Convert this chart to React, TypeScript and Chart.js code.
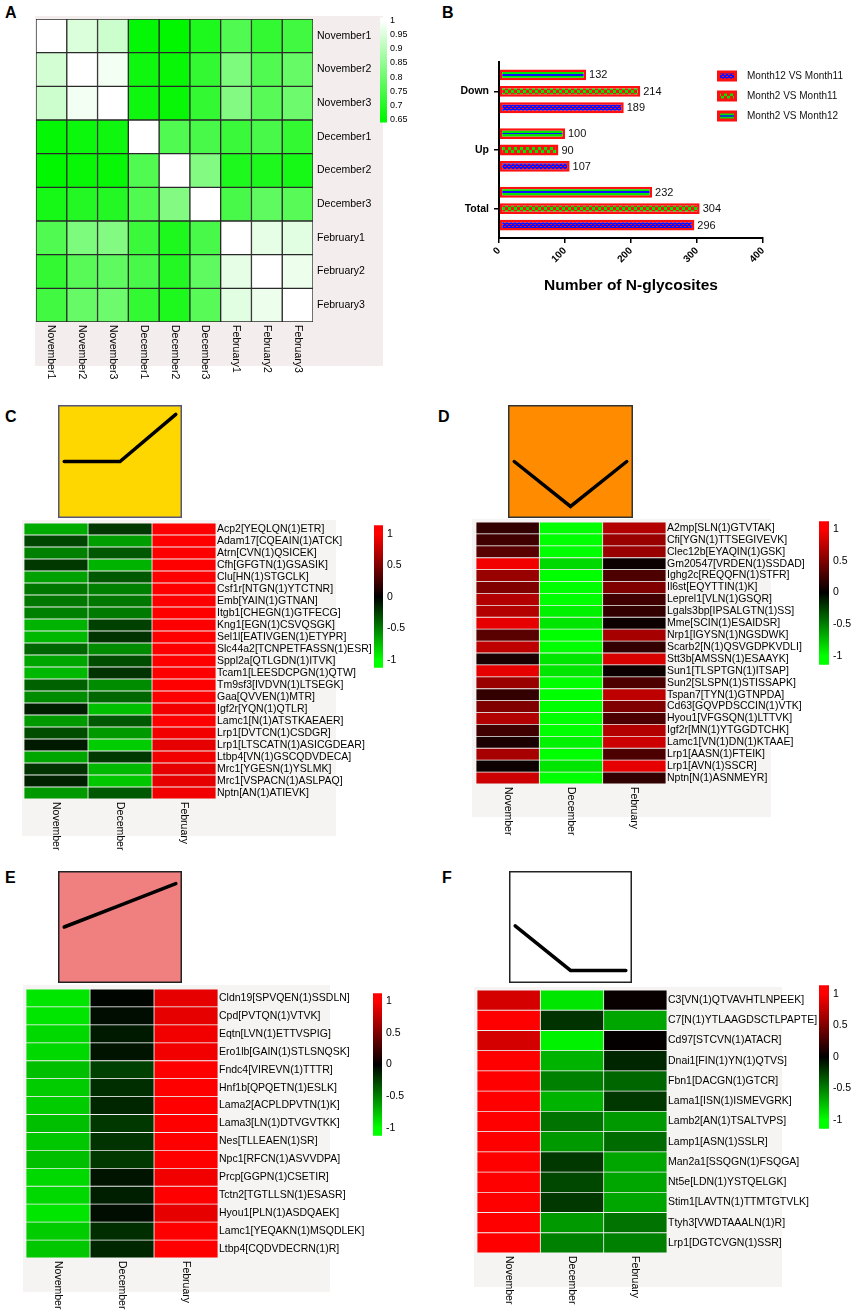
import React, { useEffect, useRef } from 'react';
import { Chart, registerables } from 'chart.js';
Chart.register(...registerables);

const FONT = '"Liberation Sans", Arial, sans-serif';

// ---------- Panel A : sample correlation matrix ----------
const SAMPLES = ['November1', 'November2', 'November3', 'December1', 'December2', 'December3', 'February1', 'February2', 'February3'];
const CORR_NOV1 = [1.0, 0.95, 0.93, 0.655, 0.65, 0.69, 0.76, 0.72, 0.74];
const CORR_NOV2 = [0.94, 1.0, 0.985, 0.67, 0.66, 0.72, 0.82, 0.76, 0.79];
const CORR_NOV3 = [0.93, 0.985, 1.0, 0.67, 0.66, 0.72, 0.83, 0.77, 0.8];
const CORR_DEC1 = [0.655, 0.665, 0.67, 1.0, 0.76, 0.75, 0.73, 0.75, 0.72];
const CORR_DEC2 = [0.65, 0.66, 0.66, 0.76, 1.0, 0.83, 0.69, 0.69, 0.68];
const CORR_DEC3 = [0.68, 0.7, 0.7, 0.76, 0.83, 1.0, 0.75, 0.78, 0.77];
const CORR_FEB1 = [0.76, 0.82, 0.83, 0.73, 0.69, 0.75, 1.0, 0.965, 0.96];
const CORR_FEB2 = [0.72, 0.77, 0.78, 0.75, 0.7, 0.78, 0.965, 1.0, 0.975];
const CORR_FEB3 = [0.74, 0.79, 0.8, 0.72, 0.69, 0.77, 0.96, 0.975, 1.0];
const CORR_ROWS = [CORR_NOV1, CORR_NOV2, CORR_NOV3, CORR_DEC1, CORR_DEC2, CORR_DEC3, CORR_FEB1, CORR_FEB2, CORR_FEB3];
const A_SCALE_TICKS = [0.65, 0.7, 0.75, 0.8, 0.85, 0.9, 0.95, 1];
const A_SCALE_RANGE = [0.6395, 1.0105];

// ---------- Panel B : N-glycosite counts ----------
const B_CATEGORIES = ['Down', 'Up', 'Total'];
const B_M12_VS_M11 = [189, 107, 296];
const B_M2_VS_M11 = [214, 90, 304];
const B_M2_VS_M12 = [132, 100, 232];
const B_X_TICKS = [0, 100, 200, 300, 400];

// ---------- Panels C-F : cluster heatmaps ----------
const MONTHS = ['November', 'December', 'February'];
const RG_TICKS = [-1, -0.5, 0, 0.5, 1];

const C_ROWS = ['Acp2[YEQLQN(1)ETR]', 'Adam17[CQEAIN(1)ATCK]', 'Atrn[CVN(1)QSICEK]', 'Cfh[GFGTN(1)GSASIK]', 'Clu[HN(1)STGCLK]', 'Csf1r[NTGN(1)YTCTNR]', 'Emb[YAIN(1)GTNAN]', 'Itgb1[CHEGN(1)GTFECG]', 'Kng1[EGN(1)CSVQSGK]', 'Sel1l[EATIVGEN(1)ETYPR]', 'Slc44a2[TCNPETFASSN(1)ESR]', 'Sppl2a[QTLGDN(1)ITVK]', 'Tcam1[LEESDCPGN(1)QTW]', 'Tm9sf3[IVDVN(1)LTSEGK]', 'Gaa[QVVEN(1)MTR]', 'Igf2r[YQN(1)QTLR]', 'Lamc1[N(1)ATSTKAEAER]', 'Lrp1[DVTCN(1)CSDGR]', 'Lrp1[LTSCATN(1)ASICGDEAR]', 'Ltbp4[VN(1)GSCQDVDECA]', 'Mrc1[YGESN(1)YSLMK]', 'Mrc1[VSPACN(1)ASLPAQ]', 'Nptn[AN(1)ATIEVK]'];
const C_NOV = [-0.67, -0.27, -0.5, -0.22, -0.63, -0.47, -0.47, -0.5, -0.7, -0.72, -0.4, -0.65, -0.72, -0.38, -0.55, -0.12, -0.6, -0.3, -0.1, -0.65, -0.2, -0.13, -0.6];
const C_DEC = [-0.22, -0.62, -0.35, -0.7, -0.35, -0.5, -0.47, -0.48, -0.25, -0.2, -0.55, -0.3, -0.2, -0.55, -0.4, -0.75, -0.35, -0.6, -0.8, -0.22, -0.72, -0.78, -0.35];
const C_FEB = [1.05, 1.05, 1.05, 1.05, 1.05, 1.05, 1.05, 1.05, 1.05, 1.02, 1.05, 1.05, 1.05, 1.05, 1.05, 0.95, 1.05, 0.95, 0.9, 0.95, 0.9, 0.9, 0.95];
const C_TREND = [0.5, 0.5, 0.93];
const C_RANGE = [-1.123, 1.138];

const D_ROWS = ['A2mp[SLN(1)GTVTAK]', 'Cfi[YGN(1)TTSEGIVEVK]', 'Clec12b[EYAQIN(1)GSK]', 'Gm20547[VRDEN(1)SSDAD]', 'Ighg2c[REQQFN(1)STFR]', 'Il6st[EQYTTIN(1)K]', 'Leprel1[VLN(1)GSQR]', 'Lgals3bp[IPSALGTN(1)SS]', 'Mme[SCIN(1)ESAIDSR]', 'Nrp1[IGYSN(1)NGSDWK]', 'Scarb2[N(1)QSVGDPKVDLI]', 'Stt3b[AMSSN(1)ESAAYK]', 'Sun1[TLSPTGN(1)ITSAP]', 'Sun2[SLSPN(1)STISSAPK]', 'Tspan7[TYN(1)GTNPDA]', 'Cd63[GQVPDSCCIN(1)VTK]', 'Hyou1[VFGSQN(1)LTTVK]', 'Igf2r[MN(1)YTGGDTCHK]', 'Lamc1[VN(1)DN(1)KTAAE]', 'Lrp1[AASN(1)FTEIK]', 'Lrp1[AVN(1)SSCR]', 'Nptn[N(1)ASNMEYR]'];
const D_NOV = [0.2, 0.25, 0.35, 0.95, 0.6, 0.5, 0.7, 0.7, 0.9, 0.35, 0.75, 0.1, 0.9, 0.6, 0.2, 0.5, 0.7, 0.25, 0.1, 0.65, 0.05, 0.8];
const D_DEC = [-1, -1, -1, -0.85, -1, -1, -1, -0.95, -0.9, -1, -1, -0.9, -0.9, -1, -1, -1, -1, -1, -0.95, -1, -0.9, -1];
const D_FEB = [0.7, 0.6, 0.6, 0.05, 0.3, 0.5, 0.25, 0.2, 0.05, 0.65, 0.2, 0.85, 0.05, 0.3, 0.75, 0.5, 0.3, 0.7, 0.8, 0.3, 0.9, 0.2];
const D_TREND = [0.5, 0.09, 0.5];
const D_RANGE = [-1.137, 1.122];

const E_ROWS = ['Cldn19[SPVQEN(1)SSDLN]', 'Cpd[PVTQN(1)VTVK]', 'Eqtn[LVN(1)ETTVSPIG]', 'Ero1lb[GAIN(1)STLSNQSK]', 'Fndc4[VIREVN(1)TTTR]', 'Hnf1b[QPQETN(1)ESLK]', 'Lama2[ACPLDPVTN(1)K]', 'Lama3[LN(1)DTVGVTKK]', 'Nes[TLLEAEN(1)SR]', 'Npc1[RFCN(1)ASVVDPA]', 'Prcp[GGPN(1)CSETIR]', 'Tctn2[TGTLLSN(1)ESASR]', 'Hyou1[PLN(1)ASDQAEK]', 'Lamc1[YEQAKN(1)MSQDLEK]', 'Ltbp4[CQDVDECRN(1)R]'];
const E_NOV = [-0.9, -0.9, -0.85, -0.85, -0.75, -0.8, -0.8, -0.75, -0.78, -0.75, -0.85, -0.85, -0.9, -0.8, -0.78];
const E_DEC = [-0.02, -0.05, -0.1, -0.08, -0.25, -0.18, -0.15, -0.22, -0.2, -0.22, -0.08, -0.12, -0.05, -0.18, -0.15];
const E_FEB = [0.9, 0.9, 0.95, 0.95, 1.05, 1.0, 1.0, 1.05, 1.05, 1.05, 0.95, 1.0, 0.9, 1.0, 1.05];
const E_TREND = [0.5, 0.7, 0.9];
const E_RANGE = [-1.122, 1.122];

const F_ROWS = ['C3[VN(1)QTVAVHTLNPEEK]', 'C7[N(1)YTLAAGDSCTLPAPTE]', 'Cd97[STCVN(1)ATACR]', 'Dnai1[FIN(1)YN(1)QTVS]', 'Fbn1[DACGN(1)GTCR]', 'Lama1[ISN(1)ISMEVGRK]', 'Lamb2[AN(1)TSALTVPS]', 'Lamp1[ASN(1)SSLR]', 'Man2a1[SSQGN(1)FSQGA]', 'Nt5e[LDN(1)YSTQELGK]', 'Stim1[LAVTN(1)TTMTGTVLK]', 'Ttyh3[VWDTAAALN(1)R]', 'Lrp1[DGTCVGN(1)SSR]'];
const F_NOV = [0.83, 1.05, 0.83, 1.0, 1.05, 1.0, 1.05, 1.05, 1.05, 1.05, 1.05, 1.05, 1.05];
const F_DEC = [-0.9, -0.2, -0.95, -0.7, -0.5, -0.7, -0.45, -0.6, -0.22, -0.28, -0.22, -0.6, -0.5];
const F_FEB = [0.03, -0.65, 0.02, -0.15, -0.4, -0.22, -0.6, -0.42, -0.65, -0.65, -0.65, -0.45, -0.5];
const F_TREND = [0.51, 0.1, 0.1];
const F_RANGE = [-1.138, 1.138];

const TREND_X = [0, 1, 2];

// ---------- colour helpers ----------
function greenWhite(v: number) {
  const t = Math.max(0, Math.min(1, (1 - v) / 0.35));
  const rb = Math.round(255 * (1 - t));
  const g = Math.round(255 - 8 * t);
  return `rgb(${rb},${g},${rb})`;
}
function redGreen(v: number) {
  if (v >= 0) return `rgb(${Math.round(255 * Math.min(1, v))},0,0)`;
  return `rgb(0,${Math.round(255 * Math.min(1, -v))},0)`;
}

// ---------- plugins ----------
const colLabelsPlugin = {
  id: 'colLabels',
  afterDraw(chart: any, _a: any, o: any) {
    const { ctx, chartArea, scales } = chart;
    ctx.save();
    ctx.font = `${o.size}px ${FONT}`;
    ctx.fillStyle = '#000';
    ctx.textAlign = 'left';
    ctx.textBaseline = 'middle';
    (o.labels || []).forEach((l: string, i: number) => {
      const x = scales.x.getPixelForValue(i + 0.5);
      ctx.save();
      ctx.translate(x, chartArea.bottom + o.gap);
      ctx.rotate(Math.PI / 2);
      ctx.fillText(l, 0, 0);
      ctx.restore();
    });
    ctx.restore();
  },
};

const trendBoxPlugin = {
  id: 'trendBox',
  beforeDraw(chart: any, _a: any, o: any) {
    const { ctx, width, height } = chart;
    ctx.save();
    ctx.fillStyle = o.bg;
    ctx.fillRect(0, 0, width, height);
    ctx.restore();
  },
  afterDraw(chart: any, _a: any, o: any) {
    const { ctx, width, height } = chart;
    ctx.save();
    ctx.strokeStyle = o.edge;
    ctx.lineWidth = 1.5;
    ctx.strokeRect(0.75, 0.75, width - 1.5, height - 1.5);
    ctx.restore();
  },
};

// ---------- config builders ----------
function heatmapConfig(p: any) {
  const datasets = p.columns.map((vals: number[], ci: number) => ({
    label: p.cols[ci],
    data: p.rows.map(() => [ci, ci + 1]),
    backgroundColor: vals.map(p.color),
    borderColor: p.border,
    borderWidth: p.borderWidth,
    borderSkipped: false,
    barPercentage: 1,
    categoryPercentage: 1,
    stack: 'cells',
  }));
  return {
    type: 'bar',
    data: { labels: p.rows, datasets },
    options: {
      indexAxis: 'y',
      responsive: false,
      animation: false,
      devicePixelRatio: 1,
      events: [],
      layout: { padding: p.pad },
      plugins: {
        legend: { display: false },
        tooltip: { enabled: false },
        colLabels: { labels: p.cols, size: p.colFont, gap: p.colGap },
      },
      scales: {
        x: { type: 'linear', min: 0, max: p.cols.length, display: false, stacked: false },
        y: {
          type: 'category',
          position: 'right',
          stacked: true,
          grid: { display: false, drawTicks: false, tickLength: 0 },
          border: { display: false },
          ticks: { autoSkip: false, padding: p.tickPad, color: '#000', font: { family: FONT, size: p.font } },
          afterFit: (s: any) => { s.width = p.axisWidth; },
        },
      },
    },
    plugins: [colLabelsPlugin],
  };
}

function colorbarConfig(p: any) {
  const [min, max] = p.range;
  return {
    type: 'bar',
    data: {
      labels: [''],
      datasets: [{
        data: [[min, max]],
        backgroundColor: (c: any) => {
          const { ctx, chartArea } = c.chart;
          if (!chartArea) return p.stops[0][1];
          const g = ctx.createLinearGradient(0, chartArea.bottom, 0, chartArea.top);
          p.stops.forEach(([v, col]: [number, string]) => {
            g.addColorStop(Math.max(0, Math.min(1, (v - min) / (max - min))), col);
          });
          return g;
        },
        borderWidth: 0,
        barPercentage: 1,
        categoryPercentage: 1,
      }],
    },
    options: {
      responsive: false,
      animation: false,
      devicePixelRatio: 1,
      events: [],
      layout: { padding: { left: 4, top: 8, bottom: 8, right: 0 } },
      plugins: { legend: { display: false }, tooltip: { enabled: false } },
      scales: {
        x: { type: 'category', display: false },
        y: {
          type: 'linear',
          position: 'right',
          min,
          max,
          grid: { display: false, drawTicks: false, tickLength: 0 },
          border: { display: false },
          afterBuildTicks: (s: any) => { s.ticks = p.ticks.map((v: number) => ({ value: v })); },
          ticks: {
            padding: p.tickPad,
            color: '#000',
            font: { family: FONT, size: p.font },
            callback: (v: any) => String(+Number(v).toFixed(2)),
          },
          afterFit: (s: any) => { s.width = 50; },
        },
      },
    },
  };
}

function trendConfig(values: number[], bg: string, edge: string) {
  return {
    type: 'line',
    data: {
      datasets: [{
        data: values.map((v, i) => ({ x: TREND_X[i], y: v })),
        borderColor: '#000',
        borderWidth: 3.5,
        pointRadius: 0,
        tension: 0,
        borderCapStyle: 'round',
        borderJoinStyle: 'miter',
      }],
    },
    options: {
      responsive: false,
      animation: false,
      devicePixelRatio: 1,
      events: [],
      layout: { padding: 0 },
      plugins: { legend: { display: false }, tooltip: { enabled: false }, trendBox: { bg, edge } },
      scales: {
        x: { type: 'linear', min: -0.08, max: 2.08, display: false },
        y: { type: 'linear', min: 0, max: 1, display: false },
      },
    },
    plugins: [trendBoxPlugin],
  };
}

const RED = '#ff1010';
const GREEN = '#00e600';
const BLUE = '#1010ff';

function makePattern(size: number, draw: (g: CanvasRenderingContext2D) => void) {
  const c = document.createElement('canvas');
  c.width = size;
  c.height = size;
  const g = c.getContext('2d')!;
  draw(g);
  return g.createPattern(c, 'repeat');
}

function barsConfig() {
  const blueChecker = makePattern(4, (g) => {
    g.fillStyle = BLUE; g.fillRect(0, 0, 4, 4);
    g.fillStyle = RED; g.fillRect(0, 0, 2, 1); g.fillRect(2, 2, 2, 1);
  });
  const greenChecker = makePattern(6, (g) => {
    g.fillStyle = GREEN; g.fillRect(0, 0, 6, 6);
    g.fillStyle = RED; g.fillRect(0, 0, 3, 3); g.fillRect(3, 3, 3, 3);
  });
  const stripe = (c: any) => {
    const el = c.element;
    if (!el || typeof el.y !== 'number' || !el.height) return GREEN;
    const h = el.height;
    const g = c.chart.ctx.createLinearGradient(0, el.y - h / 2, 0, el.y + h / 2);
    g.addColorStop(0, GREEN); g.addColorStop(0.42, GREEN);
    g.addColorStop(0.42, BLUE); g.addColorStop(0.58, BLUE);
    g.addColorStop(0.58, GREEN); g.addColorStop(1, GREEN);
    return g;
  };
  const common = { borderColor: RED, borderWidth: 2.5, borderSkipped: false, categoryPercentage: 0.84, barPercentage: 0.66 };
  const legendItems = [
    { label: 'Month12 VS Month11', fill: blueChecker, stripe: false },
    { label: 'Month2 VS Month11', fill: greenChecker, stripe: false },
    { label: 'Month2 VS Month12', fill: GREEN, stripe: true },
  ];
  const valueLabels = {
    id: 'valueLabels',
    afterDatasetsDraw(chart: any) {
      const ctx = chart.ctx;
      ctx.save();
      ctx.font = `11px ${FONT}`;
      ctx.fillStyle = '#111';
      ctx.textAlign = 'left';
      ctx.textBaseline = 'middle';
      chart.data.datasets.forEach((ds: any, di: number) => {
        chart.getDatasetMeta(di).data.forEach((el: any, i: number) => {
          ctx.fillText(String(ds.data[i]), el.x + 3, el.y + 0.5);
        });
      });
      ctx.restore();
    },
  };
  const legendB = {
    id: 'legendB',
    afterDraw(chart: any) {
      const ctx = chart.ctx;
      ctx.save();
      legendItems.forEach((it, i) => {
        const x = 287;
        const y = 76 + i * 20;
        ctx.fillStyle = RED;
        ctx.fillRect(x, y - 5.5, 20, 11);
        ctx.fillStyle = it.fill;
        ctx.fillRect(x + 3, y - 2.5, 14, 5);
        if (it.stripe) {
          ctx.fillStyle = BLUE;
          ctx.fillRect(x + 3, y - 0.75, 14, 1.5);
        }
        ctx.fillStyle = '#111';
        ctx.font = `10px ${FONT}`;
        ctx.textAlign = 'left';
        ctx.textBaseline = 'middle';
        ctx.fillText(it.label, x + 30, y);
      });
      ctx.restore();
    },
  };
  return {
    type: 'bar',
    data: {
      labels: B_CATEGORIES,
      datasets: [
        { label: 'Month2 VS Month12', data: B_M2_VS_M12, backgroundColor: stripe, ...common },
        { label: 'Month2 VS Month11', data: B_M2_VS_M11, backgroundColor: greenChecker, ...common },
        { label: 'Month12 VS Month11', data: B_M12_VS_M11, backgroundColor: blueChecker, ...common },
      ],
    },
    options: {
      indexAxis: 'y',
      responsive: false,
      animation: false,
      devicePixelRatio: 1,
      events: [],
      layout: { padding: { left: 0, top: 62, right: 92, bottom: 0 } },
      plugins: { legend: { display: false }, tooltip: { enabled: false } },
      scales: {
        x: {
          type: 'linear',
          min: 0,
          max: 400,
          afterBuildTicks: (s: any) => { s.ticks = B_X_TICKS.map((v) => ({ value: v })); },
          grid: { display: true, drawOnChartArea: false, drawTicks: true, tickLength: 5, color: '#000', lineWidth: 1.5 },
          border: { display: true, color: '#000', width: 2 },
          ticks: { minRotation: 45, maxRotation: 45, color: '#000', padding: 2, font: { family: FONT, size: 10, weight: 'bold' } },
          title: { display: true, text: 'Number of N-glycosites', color: '#000', font: { family: FONT, size: 15.5, weight: 'bold' }, padding: { top: 4, bottom: 15 } },
          afterFit: (s: any) => { s.height = 72; },
        },
        y: {
          type: 'category',
          grid: { display: true, offset: false, drawOnChartArea: false, drawTicks: true, tickLength: 5, color: '#000', lineWidth: 1.5 },
          border: { display: true, color: '#000', width: 2 },
          ticks: { color: '#000', padding: 5, font: { family: FONT, size: 10.5, weight: 'bold' } },
          afterFit: (s: any) => { s.width = 69; },
        },
      },
    },
    plugins: [valueLabels, legendB],
  };
}

// ---------- React components ----------
function ChartCanvas({ x, y, w, h, make }: any) {
  const ref = useRef<HTMLCanvasElement>(null);
  useEffect(() => {
    const chart = new Chart(ref.current as any, make());
    chart.update();
    return () => chart.destroy();
  }, []);
  return <canvas ref={ref} width={w} height={h} style={{ position: 'absolute', left: x, top: y, width: w, height: h }} />;
}

function ColorBar({ x, y, w, h, range, ticks, stops, font, tickPad }: any) {
  return (
    <ChartCanvas x={x - 4} y={y - 8} w={w + 4 + 50} h={h + 16}
      make={() => colorbarConfig({ range, ticks, stops, font, tickPad })} />
  );
}

function Gray({ x1, y1, x2, y2, color }: any) {
  return <div style={{ position: 'absolute', left: x1, top: y1, width: x2 - x1, height: y2 - y1, background: color }} />;
}

function Letter({ x, y, t }: any) {
  return <div style={{ position: 'absolute', left: x, top: y, font: `bold 16px ${FONT}`, lineHeight: '16px', color: '#000' }}>{t}</div>;
}

const RG_STOPS = [[-1.2, 'rgb(0,255,0)'], [-1, 'rgb(0,255,0)'], [0, 'rgb(0,0,0)'], [1, 'rgb(255,0,0)'], [1.2, 'rgb(255,0,0)']];
const GW_STOPS = [[0.6395, greenWhite(0.65)], [0.65, greenWhite(0.65)], [1, 'rgb(255,255,255)'], [1.0105, 'rgb(255,255,255)']];

function heatPanel(rows: string[], cols: number[][], pad: any, axisWidth: number) {
  return () => heatmapConfig({
    rows, cols: MONTHS, columns: cols, color: redGreen, pad, axisWidth,
    font: 10.5, tickPad: 1, border: 'rgba(238,238,238,0.75)', borderWidth: 0.75, colFont: 10.5, colGap: 3,
  });
}

export default function App() {
  const aColumns = SAMPLES.map((_, ci) => CORR_ROWS.map((r) => r[ci]));
  return (
    <div style={{ position: 'absolute', left: 0, top: 0, width: 855, height: 1312, background: '#fff', overflow: 'hidden', fontFamily: FONT }}>
      <Gray x1={35} y1={16} x2={383} y2={366} color="#f3eded" />
      <Gray x1={22} y1={520} x2={336} y2={836} color="#f6f3f3" />
      <Gray x1={472} y1={519} x2={771} y2={817} color="#f6f3f3" />
      <Gray x1={23} y1={985} x2={330} y2={1292} color="#f6f3f3" />
      <Gray x1={474} y1={987} x2={782} y2={1287} color="#f6f3f3" />

      <Letter x={5} y={5} t="A" />
      <Letter x={442} y={5} t="B" />
      <Letter x={5} y={409} t="C" />
      <Letter x={438} y={409} t="D" />
      <Letter x={5} y={870} t="E" />
      <Letter x={442} y={870} t="F" />

      {/* Panel A */}
      <ChartCanvas x={0} y={0} w={430} h={420} make={() => heatmapConfig({
        rows: SAMPLES, cols: SAMPLES, columns: aColumns, color: greenWhite,
        pad: { left: 36, top: 19, right: 37, bottom: 98 }, axisWidth: 80,
        font: 10.5, tickPad: 4, border: '#2a2a2a', borderWidth: 1, colFont: 10.5, colGap: 3,
      })} />
      <ColorBar x={380} y={17} w={7} h={106} range={A_SCALE_RANGE} ticks={A_SCALE_TICKS} stops={GW_STOPS} font={9} tickPad={3} />

      {/* Panel B */}
      <ChartCanvas x={430} y={0} w={425} h={310} make={barsConfig} />

      {/* Panel C */}
      <ChartCanvas x={58} y={405} w={124} h={113} make={() => trendConfig(C_TREND, '#ffd700', '#55557a')} />
      <ChartCanvas x={0} y={505} w={430} h={355} make={heatPanel(C_ROWS, [C_NOV, C_DEC, C_FEB], { left: 24, top: 18, right: 14, bottom: 61 }, 200)} />
      <ColorBar x={374} y={523} w={9} h={147} range={C_RANGE} ticks={RG_TICKS} stops={RG_STOPS} font={10.5} tickPad={4} />

      {/* Panel D */}
      <ChartCanvas x={508} y={405} w={125} h={113} make={() => trendConfig(D_TREND, '#ff8c00', '#333')} />
      <ChartCanvas x={430} y={505} w={425} h={355} make={heatPanel(D_ROWS, [D_NOV, D_DEC, D_FEB], { left: 46, top: 17, right: 39, bottom: 76 }, 150)} />
      <ColorBar x={819} y={519} w={10} h={148} range={D_RANGE} ticks={RG_TICKS} stops={RG_STOPS} font={10.5} tickPad={4} />

      {/* Panel E */}
      <ChartCanvas x={58} y={871} w={124} h={112} make={() => trendConfig(E_TREND, '#f08080', '#222')} />
      <ChartCanvas x={0} y={860} w={430} h={452} make={heatPanel(E_ROWS, [E_NOV, E_DEC, E_FEB], { left: 26, top: 129, right: 12, bottom: 54 }, 200)} />
      <ColorBar x={373} y={991} w={9} h={147} range={E_RANGE} ticks={RG_TICKS} stops={RG_STOPS} font={10.5} tickPad={4} />

      {/* Panel F */}
      <ChartCanvas x={509} y={871} w={123} h={112} make={() => trendConfig(F_TREND, '#ffffff', '#222')} />
      <ChartCanvas x={430} y={860} w={425} h={452} make={heatPanel(F_ROWS, [F_NOV, F_DEC, F_FEB], { left: 47, top: 130, right: 38, bottom: 59 }, 150)} />
      <ColorBar x={819} y={983} w={10} h={148} range={F_RANGE} ticks={RG_TICKS} stops={RG_STOPS} font={10.5} tickPad={4} />
    </div>
  );
}
